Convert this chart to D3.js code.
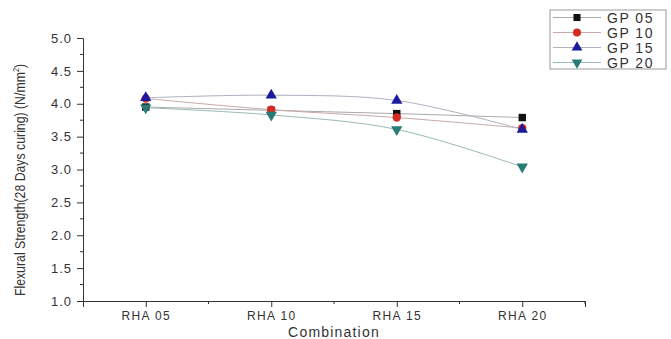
<!DOCTYPE html>
<html>
<head>
<meta charset="utf-8">
<script src="https://cdn.jsdelivr.net/npm/d3@7"></script>
<style>
  body { margin: 0; background: #fff; }
  text { font-family: 'Liberation Sans', Arial, sans-serif; fill: #333; }
</style>
</head>
<body>
<div id="chart"></div>
<script>
const categories = ['RHA 05', 'RHA 10', 'RHA 15', 'RHA 20']
const seriesNames = ['GP 05', 'GP 10', 'GP 15', 'GP 20']
const gp05 = [3.95, 3.90, 3.85, 3.79]
const gp10 = [4.08, 3.91, 3.79, 3.63]
const gp15 = [4.09, 4.13, 4.05, 3.61]
const gp20 = [3.94, 3.83, 3.61, 3.04]
const yTicks = [1.0, 1.5, 2.0, 2.5, 3.0, 3.5, 4.0, 4.5, 5.0]

const colors = ['#111', '#d42a22', '#1c1a9c', '#2a7a76']
const lineColors = ['#aaa', '#c9a8a8', '#b0b0c0', '#9bb8b8']
const shapes = [d3.symbolSquare, d3.symbolCircle, d3.symbolTriangle, 'down']
const allSeries = [gp05, gp10, gp15, gp20]

const width = 671
const height = 339
const svg = d3.select('#chart').append('svg').attr('width', width).attr('height', height)

const x = d3.scaleLinear().domain([0.5, 4.5]).range([83, 585])
const y = d3.scaleLinear().domain([1, 5]).range([301, 38])

// axes
const yAxis = d3.axisLeft(y).tickValues(yTicks).tickFormat(d3.format('.1f')).tickSize(6).tickPadding(5)
const gy = svg.append('g').attr('transform', 'translate(83,0)').call(yAxis)
gy.selectAll('.tick text').style('font-size', '13px').style('letter-spacing', '1px').attr('fill', '#444')
gy.selectAll('.domain, line').attr('stroke', '#333')
const yMinor = d3.range(1.25, 5, 0.5)
gy.selectAll('.minor').data(yMinor).enter().append('line')
  .attr('x1', -3).attr('x2', 0).attr('y1', (d) => y(d)).attr('y2', (d) => y(d)).attr('stroke', '#333')

const xAxis = d3.axisBottom(x).tickValues([1, 2, 3, 4]).tickFormat((d) => categories[d - 1]).tickSize(6).tickPadding(4)
const gx = svg.append('g').attr('transform', 'translate(0,301)').call(xAxis)
gx.selectAll('.tick text').style('font-size', '12px').style('letter-spacing', '1.4px').attr('fill', '#444')
gx.selectAll('.domain, line').attr('stroke', '#333')
gx.selectAll('.minor').data([1.5, 2.5, 3.5, 4.5]).enter().append('line')
  .attr('x1', (d) => x(d)).attr('x2', (d) => x(d)).attr('y1', 0).attr('y2', 3).attr('stroke', '#333')

svg.append('text').attr('x', (x(0.5) + x(4.5)) / 2).attr('y', 337).attr('text-anchor', 'middle')
  .style('font-size', '14px').style('letter-spacing', '1.2px').text('Combination')

svg.append('text')
  .attr('transform', 'translate(25,180) rotate(-90) scale(0.82,1)')
  .attr('text-anchor', 'middle')
  .style('font-size', '15px')
  .html('Flexural Strength(28 Days curing) (N/mm<tspan dy="-6" font-size="9px">2</tspan><tspan dy="6">)</tspan>')

const symbolPath = (shape, size) => {
  if (shape === 'down') return d3.symbol(d3.symbolTriangle, size)()
  return d3.symbol(shape, size)()
}

const line = d3.line().x((d, i) => x(i + 1)).y((d) => y(d)).curve(d3.curveCatmullRom.alpha(0.5))

allSeries.forEach((vals, s) => {
  svg.append('path').attr('d', line(vals)).attr('fill', 'none')
    .attr('stroke', lineColors[s]).attr('stroke-width', 1)
})
allSeries.forEach((vals, s) => {
  svg.selectAll('.m' + s).data(vals).enter().append('path')
    .attr('d', symbolPath(shapes[s], 55))
    .attr('transform', (d, i) => `translate(${x(i + 1)},${y(d)})${shapes[s] === 'down' ? ' rotate(180)' : ''}`)
    .attr('fill', colors[s])
})

// legend
const lg = svg.append('g')
lg.append('rect').attr('x', 550).attr('y', 10).attr('width', 116).attr('height', 59)
  .attr('fill', '#fff').attr('stroke', '#999')
seriesNames.forEach((name, s) => {
  const ly = 17.5 + s * 15
  lg.append('line').attr('x1', 553).attr('x2', 601).attr('y1', ly).attr('y2', ly).attr('stroke', lineColors[s])
  lg.append('path').attr('d', symbolPath(shapes[s], 50))
    .attr('transform', `translate(577,${ly})${shapes[s] === 'down' ? ' rotate(180)' : ''}`)
    .attr('fill', colors[s])
  lg.append('text').attr('x', 607).attr('y', ly + 5).style('font-size', '14px').style('letter-spacing', '1.5px')
    .attr('fill', '#333').text(name)
})
</script>
</body>
</html>
